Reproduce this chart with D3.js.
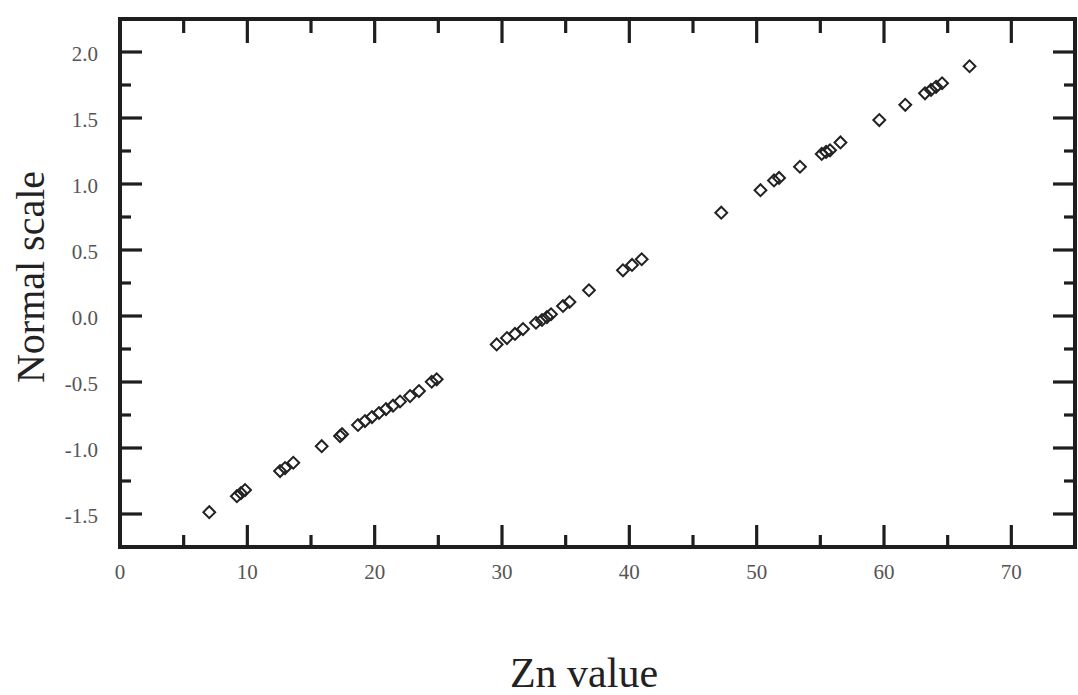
<!DOCTYPE html>
<html><head><meta charset="utf-8">
<script src="https://cdn.jsdelivr.net/npm/d3@7"></script>
<style>body{margin:0;background:#fff}svg{display:block}</style>
</head><body>
<svg id="c" width="1078" height="695"></svg>
<script>
const znValues = [7.01,9.18,9.50,9.82,12.57,12.96,13.61,15.84,17.28,17.44,18.69,19.24,19.79,20.34,20.89,21.44,21.99,22.78,23.48,24.48,24.87,29.58,30.39,31.02,31.65,32.67,33.14,33.53,33.85,34.79,35.30,36.83,39.50,40.21,40.97,47.22,50.30,51.36,51.76,53.40,55.11,55.45,55.76,56.58,59.63,61.67,63.22,63.69,64.09,64.56,66.72];
const normalScores = [-1.486,-1.365,-1.342,-1.319,-1.175,-1.152,-1.112,-0.986,-0.910,-0.895,-0.826,-0.796,-0.766,-0.735,-0.705,-0.679,-0.648,-0.607,-0.569,-0.498,-0.480,-0.215,-0.167,-0.136,-0.099,-0.051,-0.030,-0.008,0.013,0.076,0.106,0.195,0.346,0.387,0.430,0.783,0.953,1.027,1.046,1.131,1.228,1.243,1.255,1.315,1.484,1.600,1.687,1.713,1.736,1.763,1.892];
const xMajorTicks = [0,10,20,30,40,50,60,70];
const xMinorTicks = [5,15,25,35,45,55,65];
const yMajorTicks = [-1.5,-1.0,-0.5,0.0,0.5,1.0,1.5,2.0];
const yMinorTicks = [-1.25,-0.75,-0.25,0.25,0.75,1.25,1.75];
const yTickLabels = ["-1.5","-1.0","-0.5","0.0","0.5","1.0","1.5","2.0"];
const xTitle = "Zn value";
const yTitle = "Normal scale";

const svg = d3.select("#c");
const L=120,R=1075,T=19,B=547;
const x = d3.scaleLinear().domain([0,75]).range([L,R]);
const y = d3.scaleLinear().domain([-1.75,2.25]).range([B,T]);
const font = "'Liberation Serif','Times New Roman',serif";
const axisCol = "#1e1e1e";

function ticks(vals, len, w){
  const g = svg.append("g").attr("stroke",axisCol).attr("stroke-width",w);
  vals.forEach(v=>{
    g.append("line").attr("x1",x(v)).attr("x2",x(v)).attr("y1",B).attr("y2",B-len);
    g.append("line").attr("x1",x(v)).attr("x2",x(v)).attr("y1",T).attr("y2",T+len+2);
  });
}
function yticks(vals, len, w){
  const g = svg.append("g").attr("stroke",axisCol).attr("stroke-width",w);
  vals.forEach(v=>{
    g.append("line").attr("y1",y(v)).attr("y2",y(v)).attr("x1",L).attr("x2",L+len);
    g.append("line").attr("y1",y(v)).attr("y2",y(v)).attr("x1",R).attr("x2",R-len);
  });
}
ticks(xMajorTicks.filter(v=>v>0), 22, 3.2);
ticks(xMinorTicks, 12, 3.2);
yticks(yMajorTicks, 22, 3.2);
yticks(yMinorTicks, 11, 3.2);

svg.append("rect").attr("x",L).attr("y",T).attr("width",R-L).attr("height",B-T)
  .attr("fill","none").attr("stroke",axisCol).attr("stroke-width",4);

svg.append("g").selectAll("text").data(xMajorTicks).join("text")
  .attr("x",d=>x(d)).attr("y",579).attr("text-anchor","middle")
  .attr("font-family",font).attr("font-size",21).attr("fill","#555")
  .text(d=>String(d));
svg.append("g").selectAll("text").data(yMajorTicks).join("text")
  .attr("x",98).attr("y",d=>y(d)+9).attr("text-anchor","end")
  .attr("font-family",font).attr("font-size",21).attr("fill","#555")
  .text((d,i)=>yTickLabels[i]);

svg.append("text").attr("x",584).attr("y",687).attr("text-anchor","middle")
  .attr("font-family",font).attr("font-size",42).attr("fill","#222").text(xTitle);
svg.append("text").attr("transform","translate(44,277) rotate(-90)").attr("text-anchor","middle")
  .attr("font-family",font).attr("font-size",40).attr("fill","#222").text(yTitle);

const pts = znValues.map((v,i)=>({x:v,y:normalScores[i]}));
const sym = d3.symbol().type(d3.symbolSquare).size(70);
svg.append("g").selectAll("path").data(pts).join("path")
  .attr("d",sym)
  .attr("transform",d=>`translate(${x(d.x)},${y(d.y)}) rotate(45)`)
  .attr("fill","none").attr("stroke","#222").attr("stroke-width",2);
</script>
</body></html>
